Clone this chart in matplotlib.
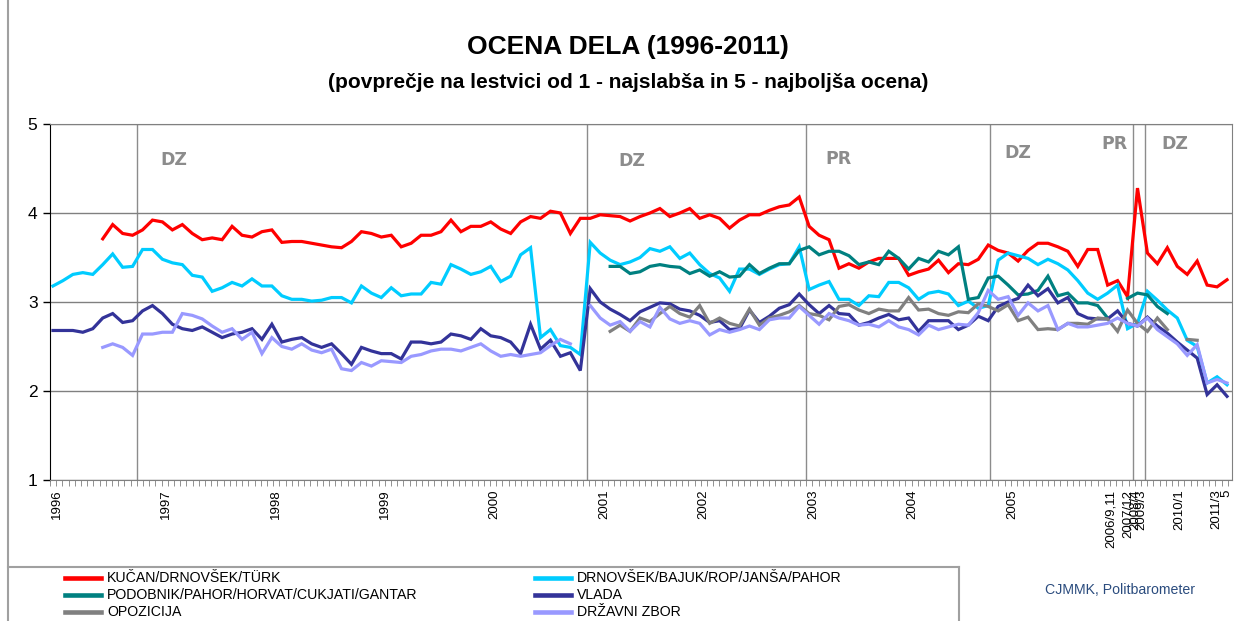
import numpy as np
import matplotlib
matplotlib.use("Agg")
import matplotlib.pyplot as plt
from matplotlib import font_manager
from matplotlib.lines import Line2D

plt.rcParams['font.family'] = ['Liberation Sans', 'DejaVu Sans']

N = 119  # survey points on the category axis

# ---- data, None = no survey value ----
kucan = [None] * 5 + [
    3.71, 3.87, 3.77, 3.75, 3.81, 3.92, 3.90, 3.81, 3.87, 3.77,
    3.70, 3.72, 3.70, 3.85, 3.75, 3.73, 3.79, 3.81, 3.67, 3.68,
    3.68, 3.66, 3.64, 3.62, 3.61, 3.68, 3.79, 3.77, 3.73, 3.75,
    3.62, 3.66, 3.75, 3.75, 3.79, 3.92, 3.79, 3.85, 3.85, 3.90,
    3.82, 3.77, 3.90, 3.96, 3.94, 4.02, 4.00, 3.77, 3.94, 3.94,
    3.98, 3.97, 3.96, 3.91, 3.96, 4.00, 4.05, 3.96, 4.00, 4.05,
    3.94, 3.98, 3.94, 3.83, 3.92, 3.98, 3.98, 4.03, 4.07, 4.09,
    4.18, 3.85, 3.75, 3.70, 3.38, 3.43, 3.38, 3.45, 3.49, 3.49,
    3.49, 3.30, 3.34, 3.37, 3.47, 3.33, 3.43, 3.42, 3.48, 3.64,
    3.58, 3.55, 3.46, 3.58, 3.66, 3.66, 3.62, 3.57, 3.40, 3.59,
    3.59, 3.19, 3.24, 3.06, 4.28, 3.55, 3.43, 3.61, 3.40, 3.31,
    3.46, 3.19, 3.17, 3.25]

drnovsek = [
    3.18, 3.24, 3.31, 3.33, 3.31, 3.42, 3.54, 3.39, 3.40, 3.59,
    3.59, 3.48, 3.44, 3.42, 3.30, 3.28, 3.12, 3.16, 3.22, 3.18,
    3.26, 3.18, 3.18, 3.07, 3.03, 3.03, 3.01, 3.02, 3.05, 3.05,
    2.99, 3.18, 3.10, 3.05, 3.16, 3.07, 3.09, 3.09, 3.22, 3.20,
    3.42, 3.37, 3.31, 3.34, 3.40, 3.23, 3.29, 3.53, 3.61, 2.60,
    2.69, 2.51, 2.49, 2.41, 3.67, 3.55, 3.47, 3.42, 3.45, 3.50,
    3.60, 3.57, 3.62, 3.49, 3.55, 3.42, 3.32, 3.27, 3.12, 3.37,
    3.37, 3.31, 3.37, 3.42, 3.43, 3.62, 3.14, 3.19, 3.23, 3.03,
    3.03, 2.96, 3.07, 3.06, 3.22, 3.22, 3.16, 3.03, 3.10, 3.12,
    3.09, 2.96, 3.01, 2.93, 2.96, 3.47, 3.55, 3.52, 3.49, 3.42,
    3.48, 3.43, 3.36, 3.24, 3.10, 3.03, 3.10, 3.19, 2.70, 2.76,
    3.12, 3.02, 2.91, 2.82, 2.57, 2.50, 2.09, 2.16, 2.07]

podobnik = [None] * 56 + [
    3.40, 3.40, 3.32, 3.34, 3.40, 3.42, 3.40, 3.39, 3.32, 3.36,
    3.29, 3.34, 3.28, 3.29, 3.42, 3.32, 3.38, 3.43, 3.43, 3.58,
    3.62, 3.53, 3.57, 3.57, 3.52, 3.42, 3.45, 3.42, 3.57, 3.49,
    3.37, 3.49, 3.45, 3.57, 3.53, 3.62, 3.03, 3.05, 3.27, 3.29,
    3.19, 3.08, 3.09, 3.13, 3.29, 3.07, 3.10, 2.99, 2.99, 2.96,
    2.82, None, 3.04, 3.10, 3.08, 2.95, 2.87] + [None] * 6

vlada = [
    2.68, 2.68, 2.68, 2.66, 2.70, 2.82, 2.87, 2.77, 2.79, 2.90,
    2.96, 2.87, 2.75, 2.70, 2.68, 2.72, 2.66, 2.60, 2.64, 2.66,
    2.70, 2.58, 2.75, 2.55, 2.58, 2.60, 2.53, 2.49, 2.53, 2.42,
    2.30, 2.49, 2.45, 2.42, 2.42, 2.36, 2.55, 2.55, 2.53, 2.55,
    2.64, 2.62, 2.58, 2.70, 2.62, 2.60, 2.55, 2.42, 2.75, 2.47,
    2.57, 2.39, 2.43, 2.23, 3.15, 3.00, 2.92, 2.86, 2.79, 2.89,
    2.94, 2.99, 2.98, 2.92, 2.90, 2.85, 2.77, 2.79, 2.69, 2.70,
    2.91, 2.77, 2.84, 2.93, 2.97, 3.09, 2.97, 2.87, 2.96, 2.87,
    2.86, 2.74, 2.77, 2.82, 2.86, 2.80, 2.82, 2.67, 2.79, 2.79,
    2.79, 2.69, 2.74, 2.84, 2.79, 2.95, 3.00, 3.04, 3.19, 3.07,
    3.15, 2.99, 3.05, 2.87, 2.82, 2.81, 2.81, 2.90, 2.76, 2.73,
    2.83, 2.73, 2.65, 2.55, 2.46, 2.37, 1.96, 2.07, 1.94]

opozicija = [None] * 56 + [
    2.67, 2.74, 2.67, 2.82, 2.78, 2.87, 2.95, 2.87, 2.83, 2.96,
    2.76, 2.82, 2.76, 2.73, 2.92, 2.74, 2.82, 2.85, 2.89, 2.96,
    2.87, 2.85, 2.80, 2.95, 2.97, 2.91, 2.87, 2.92, 2.90, 2.90,
    3.05, 2.91, 2.92, 2.87, 2.85, 2.89, 2.88, 2.98, 2.95, 2.90,
    2.97, 2.79, 2.83, 2.69, 2.70, 2.69, 2.76, 2.76, 2.75, 2.82,
    2.81, 2.67, 2.91, 2.76, 2.67, 2.82, 2.69, None, 2.58, 2.57,
    None, None, None]

dz = [None] * 5 + [
    2.49, 2.53, 2.49, 2.40, 2.64, 2.64, 2.66, 2.66, 2.87, 2.85,
    2.81, 2.73, 2.66, 2.70, 2.58, 2.66, 2.42, 2.60, 2.50, 2.47,
    2.53, 2.46, 2.43, 2.47, 2.25, 2.23, 2.32, 2.28, 2.34, 2.33,
    2.32, 2.39, 2.41, 2.45, 2.47, 2.47, 2.45, 2.49, 2.53, 2.45,
    2.39, 2.41, 2.39, 2.41, 2.43, 2.51, 2.58, 2.53, None, 2.96,
    2.82, 2.74, 2.78, 2.67, 2.78, 2.72, 2.94, 2.81, 2.76, 2.79,
    2.76, 2.63, 2.69, 2.66, 2.69, 2.73, 2.69, 2.80, 2.82, 2.82,
    2.95, 2.85, 2.75, 2.87, 2.82, 2.79, 2.74, 2.75, 2.72, 2.79,
    2.72, 2.69, 2.63, 2.74, 2.69, 2.72, 2.75, 2.74, 2.88, 3.13,
    3.03, 3.06, 2.85, 2.99, 2.90, 2.96, 2.69, 2.76, 2.72, 2.72,
    2.74, 2.76, 2.82, 2.76, 2.73, 2.82, 2.69, 2.61, 2.53, 2.40,
    2.52, 2.09, 2.13, 2.09]

series_names = ['KUČAN/DRNOVŠEK/TÜRK', 'DRNOVŠEK/BAJUK/ROP/JANŠA/PAHOR',
                'PODOBNIK/PAHOR/HORVAT/CUKJATI/GANTAR', 'VLADA',
                'OPOZICIJA', 'DRŽAVNI ZBOR']
series_data = [kucan, drnovsek, podobnik, vlada, opozicija, dz]
series_colors = ['#FF0000', '#00CCFF', '#008080', '#333399', '#808080', '#9999FF']

# category labels on the x axis
tick_pos = [0.4, 11.4, 22.4, 33.4, 44.4, 55.4, 65.4, 76.4, 86.4, 96.4,
            106.3, 108.1, 108.75, 109.4, 113.2, 116.9, 117.9]
tick_labels = ['1996', '1997', '1998', '1999', '2000', '2001', '2002', '2003',
               '2004', '2005', '2006/9,11', '2007/12', '2008/4', '2009/3',
               '2010/1', '2011/3', '5']

# elections (DZ = parliamentary, PR = presidential)
event_pos = [8.4, 53.7, 75.7, 94.2, 108.5, 109.8]
event_labels = ['DZ', 'DZ', 'PR', 'DZ', 'PR', 'DZ']
event_text_pos = [(12.1, 4.60), (58.2, 4.58), (78.9, 4.61),
                  (97.0, 4.67), (106.7, 4.78), (112.8, 4.78)]

W, H = 1244, 621
fig = plt.figure(figsize=(W / 100, H / 100), dpi=100)
ax = fig.add_axes([50 / W, 1 - 480 / H, 1182 / W, 356 / H])

x = np.arange(N)
for name, vals, col in zip(series_names, series_data, series_colors):
    y = np.array([np.nan if v is None else v for v in vals], dtype=float)
    ax.plot(x, y, color=col, lw=2.3, solid_joinstyle='miter', label=name)

for p in event_pos:
    ax.axvline(p, color='#8c8c8c', lw=1, zorder=0)
for (tx, ty), lab in zip(event_text_pos, event_labels):
    ax.text(tx, ty, lab, color='#8c8c8c', fontsize=12.5, fontweight='bold',
            family='DejaVu Sans', ha='center', va='center')

ax.set_xlim(-0.3, 118.5)
ax.set_ylim(1, 5)
ax.set_yticks([1, 2, 3, 4, 5])
ax.yaxis.grid(True, color='#808080', lw=1)
ax.set_axisbelow(True)
ax.tick_params(axis='y', labelsize=12.5, length=5, width=1, color='black', pad=4)

ax.set_xticks(tick_pos)
ax.set_xticklabels(tick_labels, rotation=90, fontsize=9.5, va='top')
ax.set_xticks(np.arange(-0.3, 118.5, 0.623), minor=True)
ax.tick_params(axis='x', which='major', length=0, pad=7)
ax.tick_params(axis='x', which='minor', length=4, color='#808080')

for s in ['top', 'right', 'bottom']:
    ax.spines[s].set_color('#808080')
ax.spines['left'].set_color('black')

fig.text(628 / W, 1 - 47 / H, 'OCENA DELA (1996-2011)', fontsize=19,
         fontweight='bold', ha='center', va='center')
fig.text(628 / W, 1 - 83 / H,
         '(povprečje na lestvici od 1 - najslabša in 5 - najboljša ocena)',
         fontsize=15, fontweight='bold', ha='center', va='center')

# legend area, laid out like the original (two columns, three rows)
names = {f.name for f in font_manager.fontManager.ttflist}
if 'Liberation Sans Narrow' in names:
    leg_font, leg_size = 'Liberation Sans Narrow', 12.3
else:
    leg_font, leg_size = 'Liberation Sans', 10.2

row_y = [578, 595, 612]
col_x = [65, 535]
for k in range(len(series_names)):
    r, c = divmod(k, 2)
    yy = 1 - row_y[r] / H
    fig.add_artist(Line2D([col_x[c] / W, (col_x[c] + 36) / W], [yy, yy],
                          color=series_colors[k], lw=3.3))
    fig.text((col_x[c] + 42) / W, yy, series_names[k], fontsize=leg_size,
             family=leg_font, ha='left', va='center')

fig.text(1120 / W, 1 - 590 / H, 'CJMMK, Politbarometer', fontsize=leg_size,
         family=leg_font, color='#2B4C7E', ha='center', va='center')

# chart frame
fig.add_artist(Line2D([8 / W, 8 / W], [0, 1], color='#a0a0a0', lw=1.5))
fig.add_artist(Line2D([8 / W, 959 / W], [1 - 567 / H, 1 - 567 / H],
                      color='#a0a0a0', lw=1.5))
fig.add_artist(Line2D([959 / W, 959 / W], [0, 1 - 567 / H],
                      color='#a0a0a0', lw=1.5))

fig.savefig('out.png', dpi=100)
